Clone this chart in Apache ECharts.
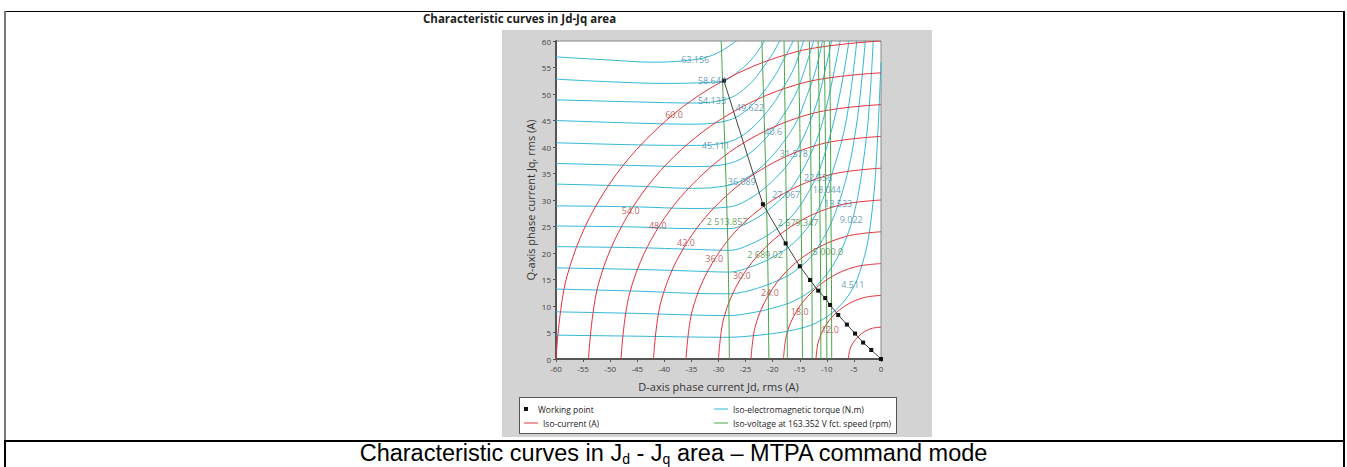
<!DOCTYPE html>
<html>
<head>
<meta charset="utf-8">
<script src="https://cdn.jsdelivr.net/npm/echarts@6/dist/echarts.min.js"></script>
<style>
html, body { margin: 0; padding: 0; background: #fff; width: 1347px; height: 467px; overflow: hidden; }
.frame-top { position: absolute; left: 4px; top: 11px; width: 1341px; height: 1px; background: #000; }
.frame-left { position: absolute; left: 4px; top: 11px; width: 2px; height: 430px; background: #777; }
.frame-left2 { position: absolute; left: 4px; top: 441px; width: 2px; height: 26px; background: #000; }
.frame-right { position: absolute; left: 1343px; top: 11px; width: 2px; height: 456px; background: #000; }
.divider { position: absolute; left: 4px; top: 440px; width: 1341px; height: 2px; background: #000; }
.panel { position: absolute; left: 502px; top: 30px; width: 430px; height: 407px; background: #d3d3d3; }
.legend-box { position: absolute; left: 519px; top: 397px; width: 376px; height: 35px; border: 1px solid #555; background: #fff; }
.caption { position: absolute; left: 0; width: 1347px; top: 440px; text-align: center;
  font-family: "Liberation Sans", Arial, sans-serif; font-size: 23.5px; line-height: 27px; color: #000; }
.caption sub { font-size: 14px; vertical-align: -3px; }
#chart { position: absolute; left: 0; top: 0; width: 1347px; height: 467px; }
</style>
</head>
<body>
<div class="frame-top"></div>
<div class="frame-left"></div>
<div class="frame-left2"></div>
<div class="frame-right"></div>
<div class="panel"></div>
<div class="legend-box"></div>
<div class="divider"></div>
<div class="caption">Characteristic curves in J<sub>d</sub> - J<sub>q</sub> area – MTPA command mode</div>
<div id="chart"></div>
<script>
// iso-torque curves (Jd, Jq), one array per level
const torqueCurves = [
  [[-60,4.5],[-45,4.3],[-35,4.15],[-28,4.1],[-24,4.35],[-20,4.8],[-16,5.5],[-12,6.8],[-8,9.6],[-5,13.7],[-3,19.6],[-2,25],[-1,35],[0,56]],
  [[-60,8.9],[-45,8.6],[-35,8.3],[-28,8.2],[-24,8.7],[-20,9.6],[-16,11],[-12,13.7],[-8,19.2],[-5,27.3],[-3,39.2],[-2,50],[-1,69]],
  [[-60,13.2],[-45,12.8],[-35,12.4],[-28,12.3],[-24,13],[-20,14.4],[-16,16.5],[-12,20.5],[-8,28.8],[-5,41],[-3,58.8],[-2,75]],
  [[-60,17.2],[-45,16.9],[-35,16.6],[-28,16.4],[-24,17.4],[-20,19.2],[-16,22],[-12,27.3],[-8,38.4],[-6,47.5],[-4,64.4]],
  [[-60,21.2],[-45,21],[-35,20.7],[-28,20.5],[-24,21.7],[-20,24],[-16,27.5],[-12,34.2],[-10,40],[-8,48],[-6,59.4],[-5,68]],
  [[-60,25.1],[-45,24.9],[-35,24.6],[-28,24.6],[-24,26],[-20,28.8],[-16,33],[-12,41],[-10,47.9],[-8,57.6],[-7,63]],
  [[-60,28.9],[-45,28.7],[-35,28.4],[-28,28.7],[-24,30.4],[-20,33.6],[-16,38.5],[-12,47.8],[-10,55.9],[-9,60.7],[-8,67]],
  [[-60,33],[-45,32.6],[-35,32.2],[-28,32.8],[-24,34.7],[-20,38.4],[-16,44],[-14,48.8],[-12,54.7],[-10,63.9]],
  [[-60,36.9],[-45,36.5],[-35,36.3],[-28,36.9],[-24,39],[-20,43.2],[-16,49.5],[-14,54.9],[-12,61.5]],
  [[-60,40.8],[-45,40.4],[-35,40.3],[-28,41],[-24,43.4],[-20,48],[-18,51.3],[-16,55],[-14,61]],
  [[-60,45],[-45,44.5],[-35,44.3],[-28,45.1],[-24,47.7],[-20,52.8],[-18,56.4],[-16,60.5]],
  [[-60,48.9],[-45,48.5],[-35,48.3],[-28,49.2],[-24,52.1],[-22,54.7],[-20,57.6],[-18,61.5]],
  [[-60,52.8],[-50,52.3],[-40,52],[-34,52.1],[-29,52.5],[-27,53.7],[-24,56.4],[-22,59.2],[-20,62.4]],
  [[-60,57],[-50,56.4],[-42,56],[-36,56.3],[-32,57],[-29,58.4],[-27,59.8],[-25,61.5]]
];
const torqueLabels = [
  [-5.2,14.0,'4.511'], [-5.5,26.4,'9.022'], [-7.9,29.4,'13.533'], [-10.0,31.9,'18.044'],
  [-11.6,34.3,'22.556'], [-17.5,31.1,'27.067'], [-16.1,38.7,'31.578'], [-25.7,33.4,'36.089'],
  [-19.9,43.0,'40.6'], [-30.5,40.2,'45.111'], [-24.2,47.4,'49.622'], [-31.2,48.7,'54.133'],
  [-31.2,52.6,'58.644'], [-34.3,56.6,'63.156']
];

// iso-current arcs (A rms)
const currentCurves = [
  [[-6,0],[-5.8,1.6],[-5.2,3],[-4.2,4.2],[-3,5.2],[-1.6,5.8],[0,6]],
  [[-12,0],[-11.6,3.1],[-10.4,6],[-8.5,8.5],[-6,10.4],[-3.1,11.6],[0,12]],
  [[-18,0],[-17.4,4.7],[-15.6,9],[-12.7,12.7],[-9,15.6],[-4.7,17.4],[0,18]],
  [[-24,0],[-23.2,6.2],[-20.8,12],[-17,17],[-12,20.8],[-6.2,23.2],[0,24]],
  [[-30,0],[-29,7.8],[-26,15],[-21.2,21.2],[-15,26],[-7.8,29],[0,30]],
  [[-36,0],[-34.8,9.3],[-31.2,18],[-25.5,25.5],[-18,31.2],[-9.3,34.8],[0,36]],
  [[-42,0],[-40.6,10.9],[-36.4,21],[-29.7,29.7],[-21,36.4],[-10.9,40.6],[0,42]],
  [[-48,0],[-46.4,12.4],[-41.6,24],[-33.9,33.9],[-24,41.6],[-12.4,46.4],[0,48]],
  [[-54,0],[-52.2,14],[-46.8,27],[-38.2,38.2],[-27,46.8],[-14,52.2],[0,54]],
  [[-60,0],[-58,15.5],[-52,30],[-42.4,42.4],[-30,52],[-15.5,58],[0,60]]
];
const currentLabels = [
  [-38.2,46.2,'60.0'], [-46.2,28.1,'54.0'], [-41.2,25.1,'48.0'], [-36.0,21.9,'42.0'],
  [-30.8,18.9,'36.0'], [-25.7,15.8,'30.0'], [-20.5,12.6,'24.0'], [-15.0,8.9,'18.0'], [-9.4,5.5,'12.0']
];

// iso-voltage lines (speed, rpm)
const voltageCurves = [
  [[-28.0,0],[-28.15,15],[-28.5,30],[-29.0,45],[-29.5,60]],
  [[-20.7,0],[-20.85,15],[-21.15,30],[-21.55,45],[-22.0,60]],
  [[-17.3,0],[-17.35,15],[-17.5,30],[-17.7,45],[-17.9,60]],
  [[-14.5,0],[-14.6,15],[-14.8,30],[-15.0,45],[-15.3,60]],
  [[-12.7,0],[-12.75,15],[-12.9,30],[-13.0,45],[-13.2,60]],
  [[-11.1,0],[-11.15,15],[-11.3,30],[-11.4,45],[-11.6,60]],
  [[-10.0,0],[-10.05,15],[-10.2,30],[-10.3,45],[-10.5,60]],
  [[-9.1,0],[-9.15,15],[-9.25,30],[-9.35,45],[-9.5,60]]
];
const voltageLabels = [
  [-28.4,26.0,'2 513.857'], [-21.4,19.8,'2 689.02'], [-15.3,25.8,'2 579.347'], [-9.8,20.2,'5 000.0']
];

// MTPA working points
const workingPoints = [
  [-29,52.5],[-21.8,29.2],[-17.6,21.8],[-15,17.5],[-13.1,14.9],[-11.6,12.9],[-10.3,11.5],
  [-9.4,10.2],[-7.9,8.3],[-6.3,6.5],[-4.8,4.8],[-3.3,3.1],[-1.8,1.7],[0,0]
];

const CYAN = '#33b7d6', RED = '#e3323a', GREEN = '#46a546';
const FONT = '"Open Sans", "DejaVu Sans", sans-serif';
const N_TORQUE = 'Iso-electromagnetic torque (N.m)';
const N_CURRENT = 'Iso-current (A)';
const N_VOLT = 'Iso-voltage at 163.352 V fct. speed (rpm)';
const N_WP = 'Working point';

function curveSeries(list, name, color) {
  return list.map(pts => ({
    type: 'line', name: name, data: pts, smooth: 0.35,
    symbol: 'none', silent: true,
    lineStyle: { color: color, width: 1 }, itemStyle: { color: color }
  }));
}
function labelSeries(list, color) {
  return {
    type: 'scatter', name: 'lbl', symbolSize: 0, silent: true, z: 5,
    data: list.map(d => ({ name: d[2], value: [d[0], d[1]] })),
    label: { show: true, position: 'inside', formatter: '{b}', fontSize: 9, color: color, fontFamily: FONT }
  };
}
function legendAt(name, icon, h, left, top) {
  return {
    data: [{ name: name, icon: icon }],
    left: left, top: top, padding: 0, itemWidth: 14, itemHeight: h, selectedMode: false,
    textStyle: { fontSize: 8.5, color: '#222', fontFamily: FONT, lineHeight: 10 }
  };
}
const LINE_ICON = 'path://M0,0H14V1H0Z';
const SQUARE_ICON = 'path://M0,0H4V4H0Z';

const chart = echarts.init(document.getElementById('chart'), null, { renderer: 'svg' });
chart.setOption({
  animation: false,
  title: {
    text: 'Characteristic curves in Jd-Jq area', left: 423, top: 12, padding: 0,
    textStyle: { fontSize: 11.5, fontWeight: 'bold', color: '#222', fontFamily: FONT }
  },
  legend: [
    legendAt(N_WP, SQUARE_ICON, 4, 524, 404),
    legendAt(N_CURRENT, LINE_ICON, 8, 524, 418),
    legendAt(N_TORQUE, LINE_ICON, 8, 714, 404),
    legendAt(N_VOLT, LINE_ICON, 8, 714, 418)
  ],
  grid: { left: 556, top: 41, width: 325, height: 318, show: true, backgroundColor: '#fff', borderColor: '#888', borderWidth: 1 },
  xAxis: {
    type: 'value', min: -60, max: 0, interval: 5,
    name: 'D-axis phase current Jd, rms (A)', nameLocation: 'middle', nameGap: 22,
    nameTextStyle: { fontSize: 11, color: '#333', fontFamily: FONT },
    axisLine: { onZero: false, lineStyle: { color: '#555', width: 2 } },
    axisTick: { length: 3, lineStyle: { color: '#555' } },
    axisLabel: { fontSize: 8, color: '#444', margin: 5, fontFamily: FONT },
    splitLine: { show: false }
  },
  yAxis: {
    type: 'value', min: 0, max: 60, interval: 5,
    name: 'Q-axis phase current Jq, rms (A)', nameLocation: 'middle', nameGap: 20,
    nameTextStyle: { fontSize: 11, color: '#333', fontFamily: FONT },
    axisLine: { onZero: false, lineStyle: { color: '#555', width: 2 } },
    axisTick: { length: 3, lineStyle: { color: '#555' } },
    axisLabel: { fontSize: 8, color: '#444', margin: 5, fontFamily: FONT },
    splitLine: { show: false }
  },
  series: [].concat(
    curveSeries(torqueCurves, N_TORQUE, CYAN),
    curveSeries(currentCurves, N_CURRENT, RED),
    curveSeries(voltageCurves, N_VOLT, GREEN),
    [{
      type: 'line', name: N_WP, data: workingPoints, symbol: 'rect', symbolSize: 4, silent: true, z: 4,
      lineStyle: { color: '#444', width: 1 }, itemStyle: { color: '#111' }
    }],
    [labelSeries(torqueLabels, '#3f86a8'), labelSeries(currentLabels, '#b03a3a'), labelSeries(voltageLabels, '#3d8a3d')]
  )
});
</script>
</body>
</html>
